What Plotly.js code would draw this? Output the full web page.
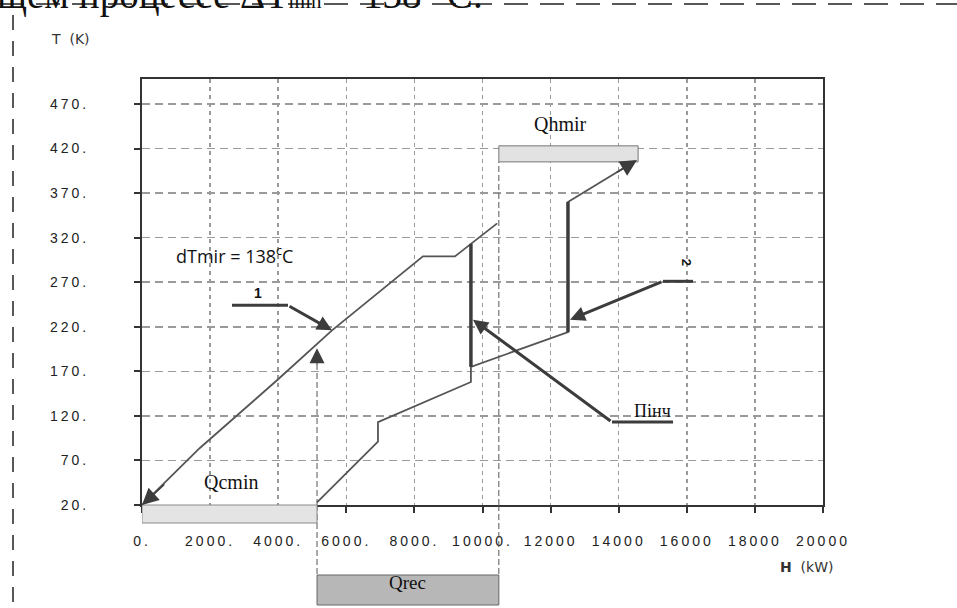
<!DOCTYPE html>
<html>
<head>
<meta charset="utf-8">
<script src="https://cdn.plot.ly/plotly-3.0.1.min.js"></script>
<style>
  html, body { margin: 0; padding: 0; background: #fff; }
  #chart { width: 957px; height: 608px; }
  .xtick text, .ytick text { letter-spacing: 3px; }
</style>
</head>
<body>
<div id="chart"></div>
<script>
// ---- data ----
const H1 = [0, 1700, 3965, 5580, 8250, 9190, 9660, 10430];
const T1 = [20, 84, 160, 216, 299, 299, 313, 336];

const H2 = [5140, 6930, 6930, 8018, 9660, 9660, 12510, 12510, 14537];
const T2 = [23, 91, 113, 131, 158, 175, 214, 360, 407];

const pinchH = [9660, 9660];
const pinchT = [175, 313];
const stepH = [12510, 12510];
const stepT = [214, 360];

const qcminH = [0, 5140];
const qrecH = [5140, 10480];
const qhmirH = [10480, 14570];
const qhmirT = [405, 423];

const xTickVals = [0, 2000, 4000, 6000, 8000, 10000, 12000, 14000, 16000, 18000, 20000];
const xTickText = ['0.', '2000.', '4000.', '6000.', '8000.', '10000.', '12000', '14000', '16000', '18000', '20000'];
const yTickVals = [20, 70, 120, 170, 220, 270, 320, 370, 420, 470];
const yTickText = ['20.', '70.', '120.', '170.', '220.', '270.', '320.', '370.', '420.', '470.'];

// ---- layout helpers (page pixel -> paper) ----
const W = 957, HGT = 608;
const M = {l: 142, r: 134, t: 79, b: 103};
const PW = W - M.l - M.r, PH = HGT - M.t - M.b;
const px = v => (v - M.l) / PW;
const py = v => (HGT - M.b - v) / PH;

const lineCol = '#555555';
const darkCol = '#3c3c3c';

const traces = [
  {x: H1, y: T1, mode: 'lines', line: {color: lineCol, width: 1.8}, hoverinfo: 'skip'},
  {x: H2, y: T2, mode: 'lines', line: {color: lineCol, width: 1.8}, hoverinfo: 'skip'},
  {x: pinchH, y: pinchT, mode: 'lines', line: {color: darkCol, width: 3.5}, hoverinfo: 'skip'},
  {x: stepH, y: stepT, mode: 'lines', line: {color: darkCol, width: 3.5}, hoverinfo: 'skip'}
];

const serif = 'Liberation Serif, Times New Roman, serif';
const sans = 'Liberation Sans, Arial, sans-serif';

function arrow(x, y, ax, ay, w, s) {
  return {x: x, y: y, ax: ax, ay: ay, xref: 'x', yref: 'y', axref: 'x', ayref: 'y',
          text: '', showarrow: true, arrowhead: 2, arrowwidth: w, arrowsize: s,
          arrowcolor: darkCol};
}

const annotations = [
  // page text (cut off at the top)
  {xref: 'paper', yref: 'paper', x: px(-5), y: py(19), xanchor: 'left', yanchor: 'bottom',
   text: 'щем процессе ΔT<span style="font-size:21px">min</span> = 138 °C.', showarrow: false,
   font: {family: serif, size: 39, color: '#111'}},
  {xref: 'paper', yref: 'paper', x: px(70), y: py(39), xanchor: 'center', yanchor: 'middle',
   text: 'T&nbsp;&nbsp;(K)', showarrow: false,
   font: {family: 'DejaVu Sans, sans-serif', size: 14, color: '#333'}},
  {xref: 'paper', yref: 'paper', x: px(807), y: py(567), xanchor: 'center', yanchor: 'middle',
   text: '<b>H</b>&nbsp;&nbsp;(kW)', showarrow: false,
   font: {family: 'DejaVu Sans, sans-serif', size: 14, color: '#333'}},
  {x: 2702, y: 300, xref: 'x', yref: 'y', text: 'dTmir = 138<sup>c</sup>C', showarrow: false,
   font: {family: 'Open Sans, sans-serif', size: 18, color: '#111'}},
  {x: 3400, y: 258, xref: 'x', yref: 'y', text: '<b>1</b>', showarrow: false,
   font: {family: sans, size: 14, color: '#111'}},
  {x: 16000, y: 292, xref: 'x', yref: 'y', text: '<b>2</b>', showarrow: false, textangle: 90,
   font: {family: sans, size: 13, color: '#111'}},
  {x: 14978, y: 125, xref: 'x', yref: 'y', text: 'Пінч', showarrow: false,
   font: {family: serif, size: 18, color: '#111'}},
  {x: 12305, y: 448, xref: 'x', yref: 'y', text: 'Qhmir', showarrow: false,
   font: {family: serif, size: 20, color: '#111'}},
  {x: 2614, y: 46, xref: 'x', yref: 'y', text: 'Qcmin', showarrow: false,
   font: {family: serif, size: 20, color: '#111'}},
  {x: (qrecH[0] + qrecH[1]) / 2, y: py(595), xref: 'x', yref: 'paper', text: 'Qrec', showarrow: false,
   font: {family: serif, size: 19, color: '#111'}},
  // label arrows
  arrow(5580, 216, 4288, 244, 3, 1),
  arrow(12570, 228, 15301, 271, 3, 1),
  arrow(9721, 228, 13803, 113, 3, 1),
  // arrow heads on curves
  arrow(H1[0], T1[0], 700, 44.6, 1.5, 2.2),
  arrow(H2[H2.length - 1], T2[T2.length - 1], 13900, 392.2, 1.5, 2.2),
  arrow(qrecH[0], 196, qrecH[0], 176, 1, 3)
];

const dashGuide = {color: '#555', width: 1, dash: '6px,3px'};
const shapes = [
  // page frame dashes
  {type: 'line', xref: 'paper', yref: 'paper', x0: px(13), x1: px(13), y0: py(15), y1: py(608),
   line: {color: '#222', width: 1.5, dash: '15px,11px'}},
  {type: 'line', xref: 'paper', yref: 'paper', x0: px(0), x1: px(957), y0: py(4), y1: py(4),
   line: {color: '#222', width: 1.5, dash: '24px,12px'}},
  // label leaders
  {type: 'line', xref: 'x', yref: 'y', x0: 2643, x1: 4288, y0: 244, y1: 244, line: {color: darkCol, width: 3}},
  {type: 'line', xref: 'x', yref: 'y', x0: 15301, x1: 16182, y0: 271, y1: 271, line: {color: darkCol, width: 3}},
  {type: 'line', xref: 'x', yref: 'y', x0: 13803, x1: 15595, y0: 113, y1: 113, line: {color: darkCol, width: 3}},
  // dashed guides
  {type: 'line', xref: 'x', yref: 'y', x0: qrecH[0], x1: qrecH[0], y0: 20, y1: 190, line: dashGuide},
  {type: 'line', xref: 'x', yref: 'paper', x0: qrecH[0], x1: qrecH[0], y0: 0, y1: py(575), line: dashGuide},
  {type: 'line', xref: 'x', yref: 'y', x0: qrecH[1], x1: qrecH[1], y0: 20, y1: qhmirT[0], line: dashGuide},
  {type: 'line', xref: 'x', yref: 'paper', x0: qrecH[1], x1: qrecH[1], y0: 0, y1: py(575), line: dashGuide},
  // boxes
  {type: 'rect', xref: 'x', yref: 'paper', x0: qcminH[0], x1: qcminH[1], y0: py(505), y1: py(523),
   fillcolor: '#e4e4e4', line: {color: '#8a8a8a', width: 1}},
  {type: 'rect', xref: 'x', yref: 'paper', x0: qrecH[0], x1: qrecH[1], y0: py(575), y1: py(605),
   fillcolor: '#b7b7b7', line: {color: '#666', width: 1}},
  {type: 'rect', xref: 'x', yref: 'y', x0: qhmirH[0], x1: qhmirH[1], y0: qhmirT[0], y1: qhmirT[1],
   fillcolor: '#e2e2e2', line: {color: '#777', width: 1}}
];

const axisCommon = {
  showline: true, mirror: true, linecolor: '#333', linewidth: 2,
  ticks: 'outside', ticklen: 6, tickwidth: 2, tickcolor: '#333',
  showgrid: true, gridcolor: '#9a9a9a', gridwidth: 1.5, zeroline: false,
  tickmode: 'array', tickfont: {family: sans, size: 14, color: '#222'}
};

const layout = {
  width: W, height: HGT,
  margin: M,
  paper_bgcolor: '#fff', plot_bgcolor: '#fff',
  showlegend: false,
  xaxis: Object.assign({}, axisCommon, {
    range: [0, 20000], tickvals: xTickVals, ticktext: xTickText,
    griddash: '4px,4px', ticklabelstandoff: 16
  }),
  yaxis: Object.assign({}, axisCommon, {
    range: [20, 498], tickvals: yTickVals, ticktext: yTickText,
    griddash: '8px,5px', ticklabelstandoff: 42
  }),
  annotations: annotations,
  shapes: shapes
};

Plotly.newPlot('chart', traces, layout, {displayModeBar: false, staticPlot: true});
</script>
</body>
</html>
